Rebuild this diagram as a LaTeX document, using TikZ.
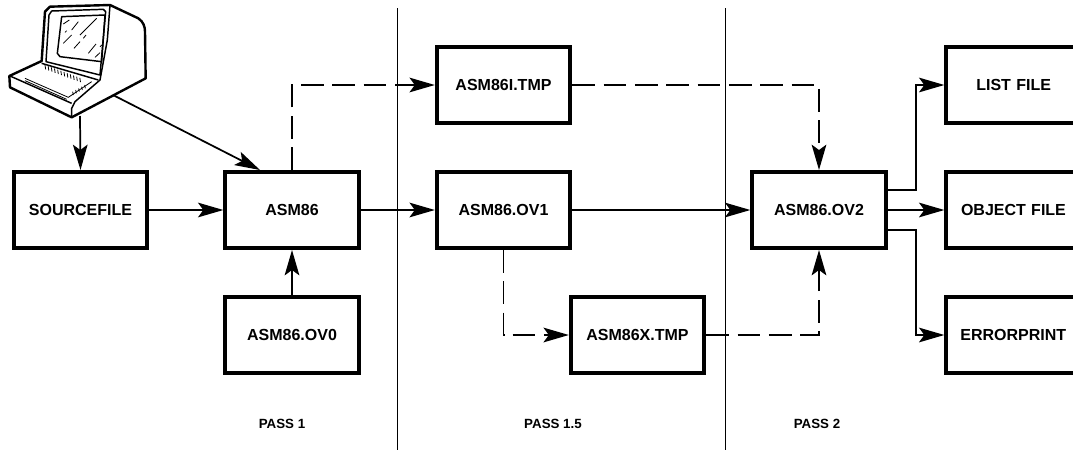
\documentclass[tikz,border=0pt]{standalone}
\usepackage{fontspec}
\setmainfont{Liberation Sans}
\usetikzlibrary{arrows.meta}
\tikzset{
	filebox/.style={rectangle, draw, line width=3pt, fill=white, minimum width=100pt, minimum height=57pt, inner sep=0pt, font=\bfseries\fontsize{12}{14}\selectfont},
	passlabel/.style={inner sep=0pt, font=\bfseries\fontsize{10}{12}\selectfont},
	flow/.style={line width=1.3pt, -{Stealth[length=19pt, width=11pt, inset=4pt]}},
	flowdash/.style={flow, dash pattern=on 17pt off 6.5pt},
	termline/.style={line width=1.8pt, line join=round},
	termthin/.style={line width=1.1pt, line join=round},
	termfine/.style={line width=0.6pt}
}
\begin{document}
\begin{tikzpicture}[x=0.75pt, y=-0.75pt]
	\useasboundingbox (0,0) rectangle (1073,450);

	\coordinate (divAtop) at (397,8);
	\coordinate (divAbot) at (397,450);
	\coordinate (divBtop) at (725,8);
	\coordinate (divBbot) at (725,450);
	\draw[line width=0.6pt] (divAtop) -- (divAbot);
	\draw[line width=0.6pt] (divBtop) -- (divBbot);

	\node[filebox] (source) at (80.5,210) {SOURCEFILE};
	\node[filebox] (asm) at (292,210) {ASM86};
	\node[filebox] (ovzero) at (292,335) {ASM86.OV0};
	\node[filebox] (ovone) at (503.5,210) {ASM86.OV1};
	\node[filebox] (itmp) at (503.5,85) {ASM86I.TMP};
	\node[filebox] (xtmp) at (637.5,335) {ASM86X.TMP};
	\node[filebox] (ovtwo) at (819,210) {ASM86.OV2};
	\node[filebox, minimum width=112pt, text width=112pt, align=left] (listf) at (1021,85) {\hspace{22.5pt}LIST FILE};
	\node[filebox, minimum width=112pt, text width=112pt, align=left] (objf) at (1021,210) {\hspace{11pt}OBJECT FILE};
	\node[filebox, minimum width=112pt, text width=112pt, align=left] (errf) at (1021,335) {\hspace{10.5pt}ERRORPRINT};

	\node[passlabel] (passone) at (282,424) {PASS 1};
	\node[passlabel] (passmid) at (553,424) {PASS 1.5};
	\node[passlabel] (passtwo) at (817,424) {PASS 2};

	\begin{scope}[x=0.25pt, y=-0.25pt]
		\draw[termline, fill=white] (125,183) -- (135,35) -- (150,20) -- (330,15) -- (415,55)
			.. controls (430,65) and (435,80) .. (435,95) -- (437,235) -- (215,352) -- (30,262) -- (28,228) -- cycle;
		\draw[termthin] (138,185) -- (147,45) -- (155,33) -- (310,28) -- (317,35) -- (300,225) -- cycle;
		\draw[termthin] (172,160) -- (185,50) -- (315,45) -- (305,185) -- (180,170) -- cycle;
		\draw[termthin] (330,15) -- (322,120) -- (300,240) -- (225,305) -- (215,325) -- (215,352);
		\draw[termthin] (30,228) -- (215,310);
		\draw[termthin] (125,190) -- (295,240);
		\draw[termfine] (75,235) -- (205,292) -- (275,245);
		\draw[termfine] (75,242) -- (200,298);
		\foreach \k in {0,...,11} {
			\draw[termfine] ({135+9.5*\k},{195+3.5*\k}) -- ({137+9.5*\k},{208+3.5*\k});
		}
		\foreach \k in {0,...,4} {
			\draw[termfine] ({218+9*\k},{275-5*\k}) -- ({220+9*\k},{285-5*\k});
		}
		\foreach \ax/\ay/\bx/\by in {190/72/208/60, 215/90/235/65, 240/105/290/55, 190/130/215/105, 222/145/240/125, 250/115/258/105, 265/160/288/132, 285/172/300/158, 195/97/200/92, 300/140/306/135} {
			\draw[termfine] (\ax,\ay) -- (\bx,\by);
		}
	\end{scope}

	\coordinate (termdown) at (80,116);
	\coordinate (termside) at (113,95);
	\draw[flow] (termdown) -- (source.north);
	\draw[flow] (termside) -- ([xshift=-24pt]asm.north);

	\draw[flow] (source) -- (asm);
	\draw[flow] (ovzero) -- (asm);
	\draw[flow] (asm) -- (ovone);
	\draw[flow] (ovone) -- (ovtwo);
	\draw[flowdash] (asm.north) |- (itmp.west);
	\draw[flowdash] (itmp.east) -| (ovtwo.north);
	\draw[flowdash] (ovone.south) |- (xtmp.west);
	\draw[flowdash] (xtmp.east) -| (ovtwo.south);
	\draw[flow] ([yshift=15pt]ovtwo.east) -- ++(28,0) |- (listf.west);
	\draw[flow] (ovtwo) -- (objf);
	\draw[flow] ([yshift=-15pt]ovtwo.east) -- ++(28,0) |- (errf.west);
\end{tikzpicture}
\end{document}
